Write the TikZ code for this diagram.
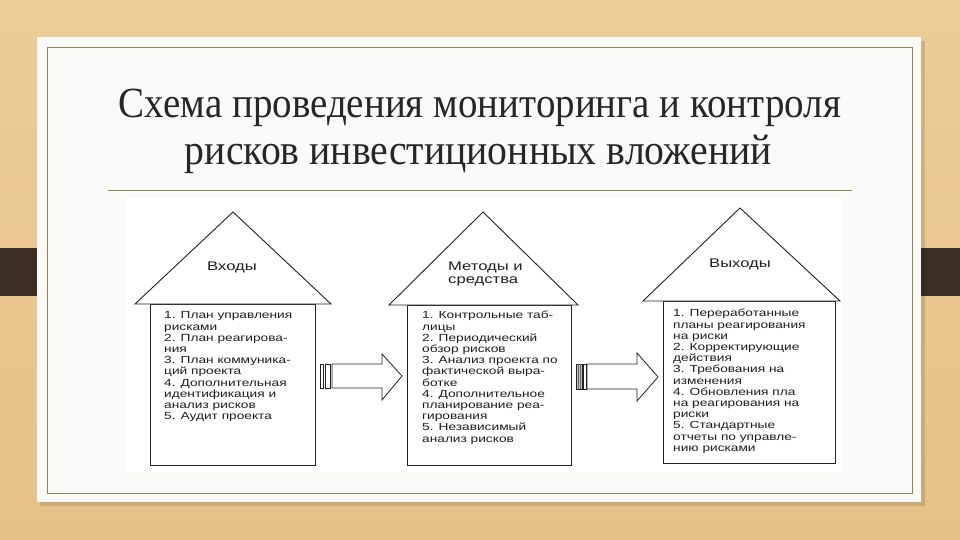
\documentclass[tikz,border=0pt]{standalone}
\usepackage{fontspec}
\usepackage{graphicx}
\setmainfont{Liberation Serif}
\newfontfamily\arialf{Liberation Sans}
\definecolor{woodtop}{HTML}{EDCC98}
\definecolor{woodbot}{HTML}{E6C187}
\definecolor{tabdark}{HTML}{3B2F25}
\definecolor{slidebg}{HTML}{FAFAF8}
\definecolor{olive}{HTML}{8C8A55}
\definecolor{inkline}{HTML}{222222}
\definecolor{inktext}{HTML}{1E1E1E}
\definecolor{titlecol}{HTML}{262626}
\newcommand{\hlist}[1]{\scalebox{1.33}[1]{\begin{tabular}{@{}l@{}}#1\end{tabular}}}
\tikzset{
  houseline/.style={draw=inkline, line width=0.9pt, fill=white, line join=miter},
  listtext/.style={anchor=north west, inner sep=0pt, text=inktext, font=\arialf\fontsize{10.3}{11.2}\selectfont},
  rooftext/.style={inner sep=0pt, text=inktext, font=\arialf\fontsize{12.5}{13}\selectfont},
  blockarrow/.style={draw=inkline, line width=0.8pt, fill=white, line join=miter},
  titletext/.style={inner sep=0pt, anchor=base, text=titlecol, font=\fontsize{43}{47}\selectfont}
}
\begin{document}
\begin{tikzpicture}[x=1pt,y=-1pt]
\useasboundingbox (0,0) rectangle (960,540);
% background
\shade[top color=woodtop, bottom color=woodbot] (0,0) rectangle (960,540);
\fill[tabdark] (0,248) rectangle (60,296);
\fill[tabdark] (901,248) rectangle (960,296);
\fill[black, opacity=0.12] (40,41) rectangle (925,506);
\fill[slidebg] (37,37) rectangle (921,502);
\draw[olive, line width=1pt] (47.5,48) rectangle (912,493);
% title
\node[titletext] (t1) at (480,118) {\resizebox{722pt}{\height}{Схема проведения мониторинга и контроля}};
\node[titletext] (t2) at (478.5,165) {\resizebox{587pt}{\height}{рисков инвестиционных вложений}};
\draw[olive, line width=0.8pt] (108,190) -- (852,190);
% diagram area
\fill[white] (125,198) rectangle (843,472);

% house 1
\draw[houseline] (150,304) rectangle (315,465);
\draw[houseline] (135,304) -- (233,212) -- (331,304) -- cycle;
\node[rooftext, anchor=base] (r1) at (232,270.6) {\scalebox{1.33}[1]{Входы}};
\node[listtext] (l1) at (164,310.9) {\hlist{1. План управления\\рисками\\2. План реагирова-\\ния\\3. План коммуника-\\ций проекта\\4. Дополнительная\\идентификация и\\анализ рисков\\5. Аудит проекта}};

% house 2
\draw[houseline] (407,305) rectangle (571,465);
\draw[houseline] (389,305) -- (483,212) -- (578,305) -- cycle;
\node[rooftext, anchor=north west] (r2) at (448,261.5) {\scalebox{1.33}[1]{\begin{tabular}{@{}l@{}}Методы и\\средства\end{tabular}}};
\node[listtext] (l2) at (422,310.9) {\hlist{1. Контрольные таб-\\лицы\\2. Периодический\\обзор рисков\\3. Анализ проекта по\\фактической выра-\\ботке\\4. Дополнительное\\планирование реа-\\гирования\\5. Независимый\\анализ рисков}};

% house 3
\draw[houseline] (663,301) rectangle (835,463);
\draw[houseline] (643,301) -- (740,208) -- (840,301) -- cycle;
\node[rooftext, anchor=base] (r3) at (740,267.6) {\scalebox{1.33}[1]{Выходы}};
\node[listtext] (l3) at (673,308.9) {\hlist{1. Переработанные\\планы реагирования\\на риски\\2. Корректирующие\\действия\\3. Требования на\\изменения\\4. Обновления пла\\на реагирования на\\риски\\5. Стандартные\\отчеты по управле-\\нию рисками}};

% arrow 1
\draw[blockarrow] (320,364) rectangle (323,388);
\draw[blockarrow] (325,364) rectangle (330,388);
\draw[blockarrow] (332,364) -- (382,364) -- (382,354) -- (402,376) -- (382,400) -- (382,388) -- (332,388) -- cycle;

% arrow 2
\draw[blockarrow, fill=gray!45] (576,364) rectangle (582.5,389);
\draw[gray!80!black, line width=0.6pt] (578.5,364) -- (578.5,389) (580.5,364) -- (580.5,389);
\draw[blockarrow] (583.5,364) rectangle (586,389);
\draw[blockarrow] (587,364) -- (637,364) -- (637,353) -- (658,377) -- (637,401) -- (637,389) -- (587,389) -- cycle;
\end{tikzpicture}
\end{document}
